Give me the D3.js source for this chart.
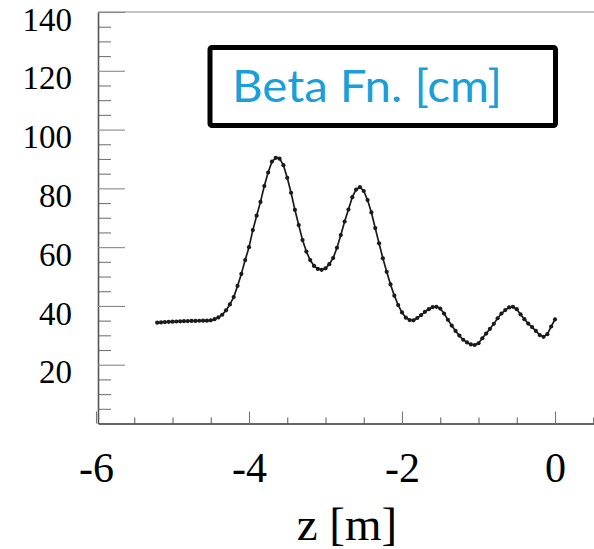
<!DOCTYPE html>
<html>
<head>
<meta charset="utf-8">
<script src="https://cdn.jsdelivr.net/npm/d3@7"></script>
<style>
  html, body { margin: 0; padding: 0; background: #fff; }
  svg { display: block; }
</style>
</head>
<body>
<svg id="chart" width="594" height="549"></svg>
<script>
// Beta function along the beamline, sampled every 5 cm
const zPositions = [
  -5.20, -5.15, -5.10, -5.05, -5.00, -4.95, -4.90, -4.85, -4.80, -4.75,
  -4.70, -4.65, -4.60, -4.55, -4.50, -4.45, -4.40, -4.35, -4.30, -4.25,
  -4.20, -4.15, -4.10, -4.05, -4.00, -3.95, -3.90, -3.85, -3.80, -3.75,
  -3.70, -3.65, -3.60, -3.55, -3.50, -3.45, -3.40, -3.35, -3.30, -3.25,
  -3.20, -3.15, -3.10, -3.05, -3.00, -2.95, -2.90, -2.85, -2.80, -2.75,
  -2.70, -2.65, -2.60, -2.55, -2.50, -2.45, -2.40, -2.35, -2.30, -2.25,
  -2.20, -2.15, -2.10, -2.05, -2.00, -1.95, -1.90, -1.85, -1.80, -1.75,
  -1.70, -1.65, -1.60, -1.55, -1.50, -1.45, -1.40, -1.35, -1.30, -1.25,
  -1.20, -1.15, -1.10, -1.05, -1.00, -0.95, -0.90, -0.85, -0.80, -0.75,
  -0.70, -0.65, -0.60, -0.55, -0.50, -0.45, -0.40, -0.35, -0.30, -0.25,
  -0.20, -0.15, -0.10, -0.05, 0.00
];
const betaCm = [
  34.3, 34.4, 34.5, 34.6, 34.65, 34.7, 34.75, 34.8, 34.85, 34.9,
  34.9, 34.95, 35.0, 35.0, 35.1, 35.5, 36.1, 37.0, 38.5, 40.5,
  43.0, 46.8, 50.9, 55.6, 60.0, 65.8, 70.7, 75.4, 80.8, 85.4,
  89.1, 90.4, 90.1, 87.9, 83.6, 78.5, 72.7, 67.5, 62.4, 58.5,
  55.6, 53.6, 52.6, 52.3, 52.8, 54.2, 56.3, 59.8, 64.1, 68.7,
  72.8, 77.0, 79.6, 80.4, 79.1, 76.0, 71.8, 66.5, 61.3, 56.2,
  51.6, 47.3, 43.5, 40.3, 37.8, 36.0, 35.2, 35.1, 35.9, 36.9,
  38.0, 38.9, 39.6, 39.7, 39.1, 37.4, 35.3, 33.3, 31.5, 29.9,
  28.5, 27.6, 26.9, 26.7, 27.3, 29.0, 30.6, 32.2, 33.9, 35.8,
  37.4, 38.6, 39.5, 39.7, 38.9, 37.1, 35.5, 34.0, 32.8, 31.5,
  30.1, 29.5, 30.4, 33.0, 35.4
];

const xMajorTicks = [-6, -4, -2, 0];
const xMinorTicks = [-5.5, -5, -4.5, -3.5, -3, -2.5, -1.5, -1, -0.5, 0.5];
const yMajorTicks = [20, 40, 60, 80, 100, 120, 140];
const yMinorTicks = [5, 10, 15, 25, 30, 35, 45, 50, 55, 65, 70, 75, 85, 90, 95, 105, 110, 115, 125, 130, 135];
const xTitle = "z [m]";
const legendLabel = "Beta Fn. [cm]";

const points = zPositions.map((z, i) => ({ z, beta: betaCm[i] }));

const svg = d3.select("#chart");
const plotLeft = 98, plotRight = 594, plotTop = 12, plotBottom = 423.5;

// z = 0 sits at x = 555, 76.5 px per metre
const x = d3.scaleLinear()
  .domain([(plotLeft - 555) / 76.5, (plotRight - 555) / 76.5])
  .range([plotLeft, plotRight]);
const y = d3.scaleLinear().domain([0, 140]).range([plotBottom, plotTop]);

const serif = "'Liberation Serif', 'Times New Roman', serif";

// top frame line
svg.append("line")
  .attr("x1", plotLeft).attr("x2", plotRight)
  .attr("y1", plotTop).attr("y2", plotTop)
  .attr("stroke", "#8a8a8a").attr("stroke-width", 1.2);

// y axis: minor ticks, then major ticks with labels (ticks point into the plot)
const yMinor = svg.append("g").attr("transform", `translate(${plotLeft},0)`)
  .call(d3.axisLeft(y).tickValues(yMinorTicks).tickSizeInner(-13).tickSizeOuter(0).tickFormat(""));
yMinor.select(".domain").remove();
yMinor.selectAll(".tick line").attr("stroke", "#777").attr("stroke-width", 1.1);

const yMajor = svg.append("g").attr("transform", `translate(${plotLeft},0)`)
  .call(d3.axisLeft(y).tickValues(yMajorTicks).tickSizeInner(-27).tickSizeOuter(0).tickPadding(26).tickFormat(d3.format("d")));
yMajor.select(".domain").attr("stroke", "#555").attr("stroke-width", 1.6);
yMajor.selectAll(".tick line").attr("stroke", "#888").attr("stroke-width", 1.1);
yMajor.selectAll(".tick text")
  .attr("font-family", serif).attr("font-size", 33).attr("fill", "#000")
  .attr("dy", "0.55em");

// x axis along the bottom
const xMinor = svg.append("g").attr("transform", `translate(0,${plotBottom})`)
  .call(d3.axisBottom(x).tickValues(xMinorTicks).tickSizeInner(-6).tickSizeOuter(0).tickFormat(""));
xMinor.select(".domain").remove();
xMinor.selectAll(".tick line").attr("stroke", "#666").attr("stroke-width", 1.1);

const xMajor = svg.append("g").attr("transform", `translate(0,${plotBottom})`)
  .call(d3.axisBottom(x).tickValues(xMajorTicks).tickSizeInner(-12).tickSizeOuter(0).tickFormat(d => d3.format("d")(d).replace("−", "-")));
xMajor.select(".domain").attr("stroke", "#333").attr("stroke-width", 1.6);
xMajor.selectAll(".tick line").attr("stroke", "#777").attr("stroke-width", 1.1);
xMajor.selectAll(".tick text")
  .attr("font-family", serif).attr("font-size", 42).attr("fill", "#000")
  .attr("y", 58.5).attr("dy", 0);

svg.append("text")
  .attr("x", 347).attr("y", 540)
  .attr("text-anchor", "middle")
  .attr("font-family", serif).attr("font-size", 47).attr("fill", "#000")
  .text(xTitle);

// beta function curve with a marker at every sample
const line = d3.line().x(d => x(d.z)).y(d => y(d.beta)).curve(d3.curveLinear);
svg.append("path")
  .datum(points)
  .attr("d", line)
  .attr("fill", "none")
  .attr("stroke", "#1a1a1a")
  .attr("stroke-width", 1.7)
  .attr("stroke-linejoin", "round");

svg.append("g").selectAll("circle")
  .data(points)
  .join("circle")
  .attr("cx", d => x(d.z)).attr("cy", d => y(d.beta))
  .attr("r", 2.1).attr("fill", "#1a1a1a");

// legend box
svg.append("rect")
  .attr("x", 210).attr("y", 47.5)
  .attr("width", 345.5).attr("height", 78)
  .attr("rx", 2)
  .attr("fill", "#fff").attr("stroke", "#000").attr("stroke-width", 5);

svg.append("text")
  .attr("x", 232).attr("y", 101.5)
  .attr("font-family", "Lato, 'Open Sans', sans-serif")
  .attr("font-size", 45)
  .attr("fill", "#1a9fd8")
  .attr("textLength", 270).attr("lengthAdjust", "spacingAndGlyphs")
  .text(legendLabel);
</script>
</body>
</html>
